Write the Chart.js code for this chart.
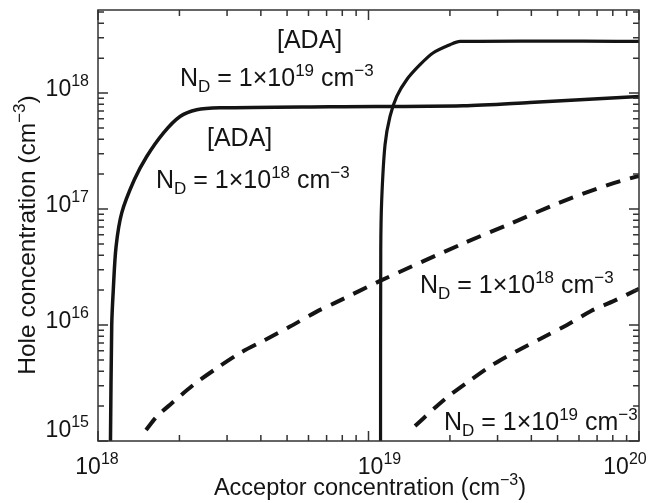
<!DOCTYPE html>
<html>
<head>
<meta charset="utf-8">
<script src="https://cdn.jsdelivr.net/npm/chart.js@4.4.1/dist/chart.umd.min.js"></script>
<style>
  html, body { margin: 0; padding: 0; background: #fff; }
  #wrap { width: 660px; height: 503px; }
</style>
</head>
<body>
<div id="wrap"><canvas id="c" width="660" height="503"></canvas></div>
<script>
// acceptor concentration (cm^-3) / hole concentration (cm^-3)
const adaNd18X = [1.112e18, 1.124e18, 1.139e18, 1.166e18, 1.224e18, 1.362e18, 1.514e18, 1.744e18, 2.01e18, 2.317e18, 2.825e18, 7.2e18, 2.236e19, 3.95e19, 1e20];
const adaNd18Y = [1e15, 1.0e16, 2.01e16, 4.72e16, 9.27e16, 1.786e17, 2.84e17, 4.52e17, 6.28e17, 7.18e17, 7.45e17, 7.62e17, 7.77e17, 8.3e17, 9.35e17];

const adaNd19X = [1.108e19, 1.11e19, 1.119e19, 1.151e19, 1.201e19, 1.272e19, 1.384e19, 1.55e19, 1.731e19, 2.001e19, 2.18e19, 1e20];
const adaNd19Y = [1e15, 4.45e16, 1.2e17, 3.58e17, 6.28e17, 9.35e17, 1.302e18, 1.754e18, 2.214e18, 2.61e18, 2.787e18, 2.787e18];

const nd18X = [1.505e18, 1.648e18, 1.873e18, 2.25e18, 2.747e18, 3.35e18, 4.143e18, 5.126e18, 6.436e18, 7.649e18, 1.103e19, 2.223e19, 3.335e19, 5.03e19, 7.7e19, 1e20];
const nd18Y = [1.244e15, 1.62e15, 2.115e15, 3.04e15, 4.24e15, 5.74e15, 7.44e15, 9.69e15, 1.305e16, 1.582e16, 2.4e16, 5.01e16, 7.45e16, 1.124e17, 1.618e17, 1.934e17];

const nd19X = [1.486e19, 1.918e19, 2.332e19, 2.911e19, 3.54e19, 4.38e19, 5.42e19, 6.65e19, 8.08e19, 1e20];
const nd19Y = [1.347e15, 2.3e15, 3.23e15, 4.62e15, 5.98e15, 7.74e15, 1.0e16, 1.323e16, 1.614e16, 2.05e16];

const xMajor = [1e18, 1e19, 1e20];
const xMajorExp = ["18", "19", "20"];
const yMajor = [1e15, 1e16, 1e17, 1e18];
const yMajorExp = ["15", "16", "17", "18"];

const xTitle = [{ t: "Acceptor concentration (cm" }, { t: "\u22123", sup: true }, { t: ")" }];
const yTitle = [{ t: "Hole concentration (cm" }, { t: "\u22123", sup: true }, { t: ")" }];

const notes = [
  [{ t: "[ADA]" }],
  [{ t: "N" }, { t: "D", sub: true }, { t: " = 1\u00d710" }, { t: "19", sup: true }, { t: " cm" }, { t: "\u22123", sup: true }],
  [{ t: "[ADA]" }],
  [{ t: "N" }, { t: "D", sub: true }, { t: " = 1\u00d710" }, { t: "18", sup: true }, { t: " cm" }, { t: "\u22123", sup: true }],
  [{ t: "N" }, { t: "D", sub: true }, { t: " = 1\u00d710" }, { t: "18", sup: true }, { t: " cm" }, { t: "\u22123", sup: true }],
  [{ t: "N" }, { t: "D", sub: true }, { t: " = 1\u00d710" }, { t: "19", sup: true }, { t: " cm" }, { t: "\u22123", sup: true }],
];

// layout (pixels), kept apart from the data
const notePos = [[277, 48], [180, 86], [207, 146], [156, 188], [420, 293], [444, 430]];
const xLabelShift = [-1, 11, -14];
const yLabelShift = [-4, 3, 3, 3];
const FAMILY = "'Liberation Sans', Arial, Helvetica, sans-serif";
const INK = "#141414";
const FRAME = "#333";

const pts = (xs, ys) => xs.map((x, i) => ({ x, y: ys[i] }));

function fontFor(p, size) {
  const s = p.sup || p.sub ? Math.round(size * 0.68) : size;
  return `${s}px ${FAMILY}`;
}

function drawRich(ctx, parts, x, y, size, align) {
  let w = 0;
  parts.forEach((p) => { ctx.font = fontFor(p, size); w += ctx.measureText(p.t).width; });
  let cx = align === "center" ? x - w / 2 : align === "right" ? x - w : x;
  parts.forEach((p) => {
    ctx.font = fontFor(p, size);
    const dy = p.sup ? -size * 0.42 : p.sub ? size * 0.25 : 0;
    ctx.fillText(p.t, cx, y + dy);
    cx += ctx.measureText(p.t).width;
  });
}

function minorTicks(lo, hi) {
  const out = [];
  for (let d = lo; d < hi; d *= 10) for (let k = 2; k <= 9; k += 1) out.push(d * k);
  return out;
}

const axesPlugin = {
  id: "axesPlugin",
  afterDraw(chart) {
    const { ctx, chartArea: a, scales } = chart;
    const xs = scales.x;
    const ys = scales.y;
    ctx.save();
    ctx.strokeStyle = FRAME;
    ctx.lineWidth = 1.5;
    ctx.strokeRect(a.left, a.top, a.right - a.left, a.bottom - a.top);

    ctx.beginPath();
    const tick = (x1, y1, x2, y2) => { ctx.moveTo(x1, y1); ctx.lineTo(x2, y2); };
    xMajor.forEach((v) => { const p = xs.getPixelForValue(v); tick(p, a.bottom, p, a.bottom - 10); tick(p, a.top, p, a.top + 10); });
    minorTicks(1e18, 1e20).forEach((v) => { const p = xs.getPixelForValue(v); tick(p, a.bottom, p, a.bottom - 6); tick(p, a.top, p, a.top + 6); });
    yMajor.forEach((v) => { const p = ys.getPixelForValue(v); tick(a.left, p, a.left + 10, p); tick(a.right, p, a.right - 10, p); });
    minorTicks(1e15, 1e19).forEach((v) => {
      const p = ys.getPixelForValue(v);
      if (p < a.top + 1) return;
      tick(a.left, p, a.left + 6, p); tick(a.right, p, a.right - 6, p);
    });
    ctx.stroke();

    ctx.fillStyle = INK;
    ctx.textBaseline = "alphabetic";
    xMajor.forEach((v, i) => {
      drawRich(ctx, [{ t: "10" }, { t: xMajorExp[i], sup: true }], xs.getPixelForValue(v) + xLabelShift[i], 474, 23, "center");
    });
    yMajor.forEach((v, i) => {
      drawRich(ctx, [{ t: "10" }, { t: yMajorExp[i], sup: true }], a.left - 9, ys.getPixelForValue(v) + yLabelShift[i], 23, "right");
    });

    drawRich(ctx, xTitle, 370, 495, 23.5, "center");
    ctx.save();
    ctx.translate(35, 235);
    ctx.rotate(-Math.PI / 2);
    drawRich(ctx, yTitle, 0, 0, 24.5, "center");
    ctx.restore();

    notes.forEach((n, i) => drawRich(ctx, n, notePos[i][0], notePos[i][1], 25, "left"));
    ctx.restore();
  },
};

const lineStyle = { borderColor: INK, pointRadius: 0, fill: false, clip: 0, tension: 0.3 };

new Chart(document.getElementById("c"), {
  type: "line",
  data: {
    datasets: [
      { ...lineStyle, data: pts(adaNd18X, adaNd18Y), borderWidth: 3.5 },
      { ...lineStyle, data: pts(adaNd19X, adaNd19Y), borderWidth: 3.2 },
      { ...lineStyle, data: pts(nd18X, nd18Y), borderWidth: 4, borderDash: [15, 10] },
      { ...lineStyle, data: pts(nd19X, nd19Y), borderWidth: 4, borderDash: [15, 10] },
    ],
  },
  options: {
    responsive: false,
    animation: false,
    layout: { padding: { left: 98, top: 10, right: 21, bottom: 62 } },
    plugins: { legend: { display: false }, tooltip: { enabled: false } },
    scales: {
      x: { type: "logarithmic", min: 1e18, max: 1e20, display: false },
      y: { type: "logarithmic", min: 1e15, max: 5.2e18, display: false },
    },
  },
  plugins: [axesPlugin],
});
</script>
</body>
</html>
